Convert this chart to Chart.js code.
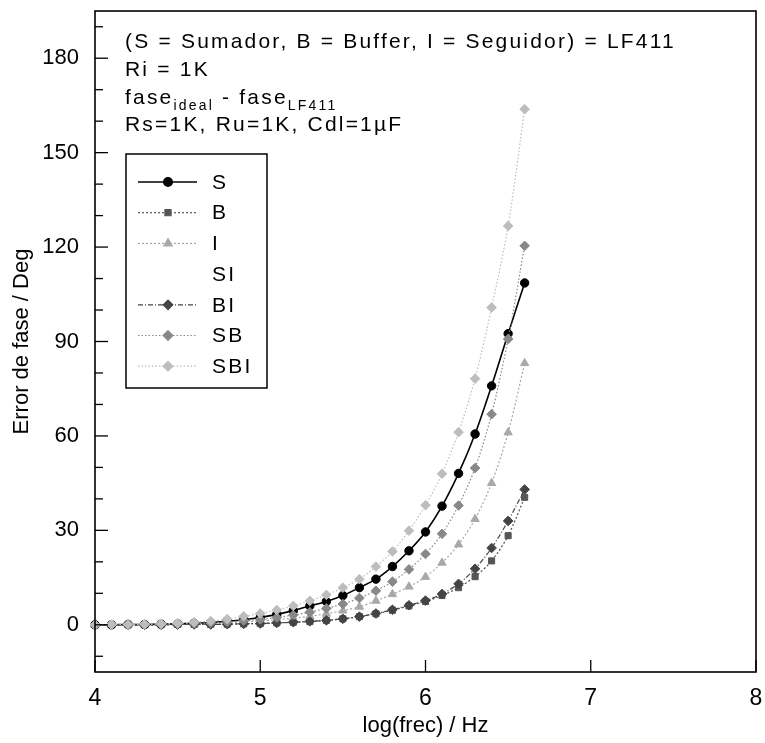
<!DOCTYPE html>
<html><head><meta charset="utf-8">
<script src="https://cdn.jsdelivr.net/npm/chart.js@4.4.1/dist/chart.umd.min.js"></script>
<style>html,body{margin:0;padding:0;background:#fff}#wrap{width:765px;height:743px}</style>
</head><body><div id="wrap"><canvas id="c" width="765" height="743"></canvas></div>
<script>
const logFrec = [4.0,4.1,4.2,4.3,4.4,4.5,4.6,4.7,4.8,4.9,5.0,5.1,5.2,5.3,5.4,5.5,5.6,5.7,5.8,5.9,6.0,6.1,6.2,6.3,6.4,6.5,6.6];
const serieS   = [0,0,0.1,0.1,0.2,0.3,0.5,0.7,1.1,1.6,2.3,3.3,4.5,6.0,7.4,9.3,11.8,14.5,18.5,23.5,29.5,37.7,48.1,60.6,75.9,92.5,108.6];
const serieB   = [0,0,0,0,0,0.1,0.1,0.1,0.2,0.3,0.4,0.6,0.8,1.0,1.4,1.9,2.6,3.5,4.6,6.0,7.4,9.3,11.8,15.3,20.3,28.3,40.5];
const serieI   = [0,0,0,0,0.1,0.2,0.3,0.4,0.6,0.9,1.2,1.6,2.1,2.7,3.5,4.5,5.7,7.6,9.7,12.1,15.2,19.7,25.5,33.6,45.0,61.1,83.1];
const serieSI  = [];
const serieBI  = [0,0,0,0,0,0.1,0.1,0.1,0.2,0.3,0.4,0.6,0.8,1.1,1.4,1.9,2.6,3.6,4.8,6.2,7.7,9.8,13.0,17.8,24.4,33.0,43.0];
const serieSB  = [0,0,0.1,0.1,0.2,0.3,0.4,0.6,0.9,1.3,1.7,2.3,3.1,4.0,5.2,6.6,8.5,10.8,13.7,17.6,22.5,28.9,37.9,49.8,66.9,90.8,120.4];
const serieSBI = [0,0.1,0.1,0.2,0.3,0.5,0.8,1.2,1.8,2.7,3.6,4.7,6.0,7.6,9.5,11.8,14.5,18.5,23.3,29.9,38.0,48.0,61.2,78.2,100.8,126.7,163.8];
const seriesLabels = ['S','B','I','SI','BI','SB','SBI'];
const xTickValues = [4,5,6,7,8];
const yTickValues = [-10,0,10,20,30,40,50,60,70,80,90,100,110,120,130,140,150,160,170,180,190];
const yLabelValues = [0,30,60,90,120,150,180];
const notes = ['(S = Sumador, B = Buffer, I = Seguidor) = LF411','Ri = 1K','Rs=1K, Ru=1K, Cdl=1µF'];

const FONT = "'Liberation Sans', Arial, sans-serif";
const pts = arr => arr.map((v,i)=>({x:logFrec[i], y:v}));

function ds(label, data, color, dash, style, radius, order, width){
  return {label, data:pts(data), borderColor:color, backgroundColor:color, borderWidth:width||1.2,
    borderDash:dash, pointStyle:style, pointRadius:radius, pointBorderWidth:1,
    pointBackgroundColor:color, pointBorderColor:color, tension:0.3, fill:false, order, clip:false};
}
const datasets = [
  ds(seriesLabels[0], serieS, '#000000', [], 'circle', 4.2, 3, 1.6),
  ds(seriesLabels[1], serieB, '#555555', [2,2], 'rect', 4.3, 5),
  ds(seriesLabels[2], serieI, '#a8a8a8', [2,2], 'triangle', 4.8, 4),
  ds(seriesLabels[3], serieSI, 'rgba(0,0,0,0)', [], false, 0, 6),
  ds(seriesLabels[4], serieBI, '#444444', [5,2,1,2], 'rectRot', 4.8, 2),
  ds(seriesLabels[5], serieSB, '#888888', [1.5,2], 'rectRot', 4.8, 1),
  ds(seriesLabels[6], serieSBI, '#bdbdbd', [1.5,2], 'rectRot', 4.8, 0),
];

const decor = {
  id:'decor',
  afterDraw(chart){
    const {ctx, chartArea:a, scales:{x,y}} = chart;
    ctx.save();
    ctx.letterSpacing='2.2px';
    // frame
    ctx.strokeStyle='#000'; ctx.lineWidth=1.6;
    ctx.strokeRect(a.left,a.top,a.right-a.left,a.bottom-a.top);
    // inner ticks
    ctx.lineWidth=1.3;
    y.ticks.forEach(t=>{
      const py=y.getPixelForValue(t.value);
      const len = yLabelValues.includes(t.value)?13:8;
      ctx.beginPath(); ctx.moveTo(a.left,py); ctx.lineTo(a.left+len,py); ctx.stroke();
    });
    x.ticks.forEach(t=>{
      const px=x.getPixelForValue(t.value);
      ctx.beginPath(); ctx.moveTo(px,a.bottom); ctx.lineTo(px,a.bottom-12); ctx.stroke();
    });
    // notes
    ctx.fillStyle='#000'; ctx.textBaseline='alphabetic'; ctx.textAlign='left';
    const big = '21px '+FONT, small='14px '+FONT;
    const tx = 125;
    ctx.font=big;
    ctx.fillText(notes[0], tx, 48);
    ctx.fillText(notes[1], tx, 76);
    let cx = tx; const b3 = 103.5;
    const parts = [['fase',big,0],['ideal',small,6],[' - fase',big,0],['LF411',small,6]];
    parts.forEach(p=>{ctx.font=p[1]; ctx.fillText(p[0],cx,b3+p[2]); cx+=ctx.measureText(p[0]).width;});
    ctx.font=big;
    ctx.fillText(notes[2], tx, 131);
    // legend box
    const L=126, T=154, R=267, B=388;
    ctx.lineWidth=1.5; ctx.strokeStyle='#000';
    ctx.strokeRect(L,T,R-L,B-T);
    chart.data.datasets.forEach((d,i)=>{
      const ry = 182 + i*30.7;
      ctx.save();
      ctx.strokeStyle=d.borderColor; ctx.lineWidth=d.borderWidth; ctx.setLineDash(d.borderDash);
      ctx.beginPath(); ctx.moveTo(138,ry); ctx.lineTo(197,ry); ctx.stroke();
      ctx.setLineDash([]);
      if(d.pointStyle){
        ctx.fillStyle=d.pointBackgroundColor; ctx.strokeStyle=d.pointBorderColor;
        Chart.helpers.drawPoint(ctx,{pointStyle:d.pointStyle,radius:d.pointRadius,borderWidth:1,rotation:0},168,ry);
      }
      ctx.restore();
      ctx.fillStyle='#000'; ctx.font=big; ctx.textBaseline='middle';
      ctx.fillText(d.label, 212, ry+1);
    });
    ctx.restore();
  }
};

const canvas = document.getElementById('c');
canvas.getContext('2d').letterSpacing = '2px';

new Chart(canvas, {
  type:'line',
  data:{datasets},
  plugins:[decor],
  options:{
    responsive:false, animation:false, devicePixelRatio:1,
    layout:{padding:{top:11,right:9,left:0,bottom:0}},
    plugins:{legend:{display:false}, tooltip:{enabled:false}},
    scales:{
      x:{type:'linear', min:4, max:8,
        afterBuildTicks: s=>{ s.ticks = xTickValues.map(v=>({value:v})); },
        afterFit: s=>{ s.height = 71; s.paddingLeft = 0; s.paddingRight = 0; },
        grid:{display:false, drawTicks:false}, border:{display:false},
        ticks:{color:'#000', font:{family:FONT, size:23}, padding:13, maxRotation:0, autoSkip:false},
        title:{display:true, text:'log(frec) / Hz', color:'#000', font:{family:FONT, size:22}, padding:{top:0,bottom:4}}
      },
      y:{type:'linear', min:-15, max:195,
        afterBuildTicks: s=>{ s.ticks = yTickValues.map(v=>({value:v})); },
        afterFit: s=>{ s.width = 95; s.paddingTop = 0; s.paddingBottom = 0; },
        grid:{display:false, drawTicks:false}, border:{display:false},
        ticks:{color:'#000', font:{family:FONT, size:22}, padding:16, autoSkip:false,
          callback: v => yLabelValues.includes(v) ? String(v) : ''},
        title:{display:true, text:'Error de fase / Deg', color:'#000', font:{family:FONT, size:22}, padding:{top:9,bottom:0}}
      }
    }
  }
});
</script></body></html>
